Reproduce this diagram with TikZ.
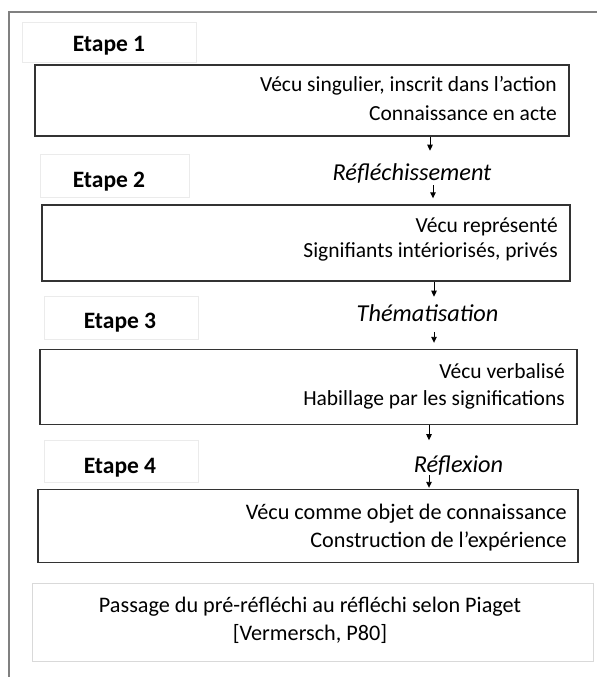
\documentclass[tikz,border=0pt]{standalone}
\usepackage{fontspec}
\setmainfont{Carlito}
\usetikzlibrary{arrows.meta}
\begin{document}
\begin{tikzpicture}[x=1pt,y=-1pt,
  frameline/.style={draw=black!50,line width=1.5pt},
  etapebox/.style={draw=black!8,line width=0.7pt,inner sep=0},
  stagebox/.style={draw=black!80,line width=1.4pt,inner sep=0},
  notebox/.style={draw=black!15,line width=1pt,inner sep=0},
  etapetext/.style={font=\fontsize{23.5}{28}\selectfont\bfseries,inner sep=0,anchor=base},
  bodytext/.style={font=\fontsize{21.5}{26}\selectfont,inner sep=0,anchor=base east},
  bigtext/.style={font=\fontsize{22.2}{26}\selectfont,inner sep=0,anchor=base east},
  notetext/.style={font=\fontsize{22.2}{26}\selectfont,inner sep=0,anchor=base},
  labeltext/.style={font=\fontsize{24.3}{28}\selectfont\itshape,inner sep=0,anchor=base},
  arr/.style={line width=0.9pt,-{Triangle[width=5.5pt,length=6pt]}}]
\useasboundingbox (0,0) rectangle (597,677);
\draw[frameline] (9,677) -- (9,12) -- (597,12);

% Etape boxes
\node[etapebox,minimum width=174,minimum height=40] (e1) at (109,42) {};
\node[etapebox,minimum width=149,minimum height=43] (e2) at (114.5,175.5) {};
\node[etapebox,minimum width=154,minimum height=43] (e3) at (121,317.5) {};
\node[etapebox,minimum width=154,minimum height=42] (e4) at (121,461) {};
\node[etapetext] (e1t) at (109,52) {Etape 1};
\node[etapetext] (e2t) at (109,187) {Etape 2};
\node[etapetext] (e3t) at (120,328) {Etape 3};
\node[etapetext] (e4t) at (120,473) {Etape 4};

% Stage boxes
\node[stagebox,minimum width=534,minimum height=71] (b1) at (302,100.5) {};
\node[stagebox,minimum width=528,minimum height=76] (b2) at (306,243) {};
\node[stagebox,minimum width=537,minimum height=75] (b3) at (308.5,387) {};
\node[stagebox,minimum width=540,minimum height=73] (b4) at (308,526) {};

\node[bodytext] (b1a) at (557,92) {Vécu singulier, inscrit dans l’action};
\node[bodytext] (b1b) at (557,120) {Connaissance en acte};
\node[bodytext] (b2a) at (558,232) {Vécu représenté};
\node[bodytext] (b2b) at (558,257) {Signifiants intériorisés, privés};
\node[bodytext] (b3a) at (565,378) {Vécu verbalisé};
\node[bodytext] (b3b) at (565,405) {Habillage par les significations};
\node[bigtext] (b4a) at (567,519) {Vécu comme objet de connaissance};
\node[bigtext] (b4b) at (567,547) {Construction de l’expérience};

% Transition labels
\node[labeltext] (l1) at (412,180) {Réfléchissement};
\node[labeltext] (l2) at (427.5,321) {Thématisation};
\node[labeltext] (l3) at (458.5,472) {Réflexion};

% Arrows
\draw[arr] ([xshift=128pt]b1.south) -- ++(0,14);
\draw[arr] ([xshift=127pt,yshift=19pt]b2.north) -- ([xshift=127pt,yshift=6pt]b2.north);
\draw[arr] ([xshift=128pt]b2.south) -- ++(0,15);
\draw[arr] ([xshift=125.5pt,yshift=17pt]b3.north) -- ([xshift=125.5pt,yshift=6pt]b3.north);
\draw[arr] ([xshift=120.5pt]b3.south) -- ++(0,15);
\draw[arr] ([xshift=121pt,yshift=14pt]b4.north) -- ([xshift=121pt,yshift=1pt]b4.north);

% Note box
\node[notebox,minimum width=561,minimum height=78] (nb) at (312.5,622) {};
\node[notetext] (n1) at (310,612) {Passage du pré-réfléchi au réfléchi selon Piaget};
\node[notetext] (n2) at (310,640) {[Vermersch, P80]};
\end{tikzpicture}
\end{document}
